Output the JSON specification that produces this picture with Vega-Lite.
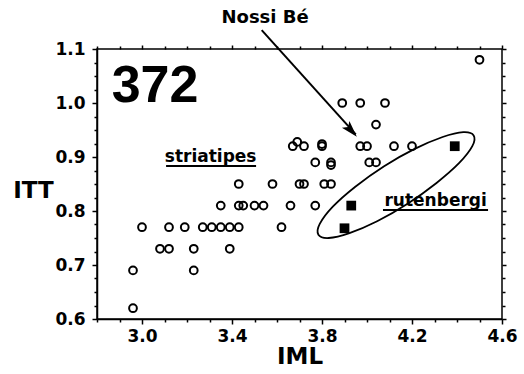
{
  "$schema": "https://vega.github.io/schema/vega-lite/v6.json",
  "width": 405,
  "height": 270,
  "autosize": "none",
  "padding": {"left": 97, "top": 49, "right": 22, "bottom": 55},
  "background": "white",
  "config": {
    "view": {"stroke": "black", "strokeWidth": 1.5},
    "axis": {
      "grid": false,
      "domainColor": "black",
      "domainWidth": 1.5,
      "tickColor": "black",
      "tickWidth": 1.5,
      "labelFont": "DejaVu Sans",
      "labelFontWeight": "bold",
      "labelFontSize": 17,
      "labelColor": "black",
      "labelOverlap": false,
      "labelFlush": false,
      "titleFont": "DejaVu Sans",
      "titleFontWeight": "bold",
      "titleFontSize": 23,
      "titleColor": "black"
    }
  },
  "datasets": {
    "s": [
      {"iml": 2.96, "itt": 0.62}, {"iml": 2.96, "itt": 0.69}, {"iml": 3.0, "itt": 0.77},
      {"iml": 3.08, "itt": 0.73}, {"iml": 3.12, "itt": 0.73}, {"iml": 3.12, "itt": 0.77},
      {"iml": 3.19, "itt": 0.77}, {"iml": 3.23, "itt": 0.73}, {"iml": 3.23, "itt": 0.69},
      {"iml": 3.27, "itt": 0.77}, {"iml": 3.31, "itt": 0.77}, {"iml": 3.35, "itt": 0.77},
      {"iml": 3.39, "itt": 0.77}, {"iml": 3.43, "itt": 0.77}, {"iml": 3.39, "itt": 0.73},
      {"iml": 3.35, "itt": 0.81}, {"iml": 3.43, "itt": 0.81}, {"iml": 3.45, "itt": 0.81},
      {"iml": 3.5, "itt": 0.81}, {"iml": 3.54, "itt": 0.81}, {"iml": 3.66, "itt": 0.81},
      {"iml": 3.77, "itt": 0.81}, {"iml": 3.62, "itt": 0.77}, {"iml": 3.43, "itt": 0.85},
      {"iml": 3.58, "itt": 0.85}, {"iml": 3.7, "itt": 0.85}, {"iml": 3.72, "itt": 0.85},
      {"iml": 3.81, "itt": 0.85}, {"iml": 3.84, "itt": 0.85}, {"iml": 3.67, "itt": 0.92},
      {"iml": 3.69, "itt": 0.928}, {"iml": 3.72, "itt": 0.92}, {"iml": 3.8, "itt": 0.92},
      {"iml": 3.8, "itt": 0.924}, {"iml": 3.97, "itt": 0.92}, {"iml": 4.0, "itt": 0.92},
      {"iml": 4.12, "itt": 0.92}, {"iml": 4.2, "itt": 0.92}, {"iml": 3.77, "itt": 0.89},
      {"iml": 3.84, "itt": 0.885}, {"iml": 3.84, "itt": 0.89}, {"iml": 4.01, "itt": 0.89},
      {"iml": 4.04, "itt": 0.89}, {"iml": 3.89, "itt": 1.0}, {"iml": 3.97, "itt": 1.0},
      {"iml": 4.08, "itt": 1.0}, {"iml": 4.04, "itt": 0.96}, {"iml": 4.5, "itt": 1.08}
    ],
    "r": [
      {"iml": 4.39, "itt": 0.92}, {"iml": 3.93, "itt": 0.81}, {"iml": 3.9, "itt": 0.768}
    ],
    "ell": [
      {"i": 0, "iml": 4.474, "itt": 0.94}, {"i": 1, "iml": 4.468, "itt": 0.92},
      {"i": 2, "iml": 4.41, "itt": 0.889}, {"i": 3, "iml": 4.309, "itt": 0.852},
      {"i": 4, "iml": 4.182, "itt": 0.814}, {"i": 5, "iml": 4.045, "itt": 0.781},
      {"i": 6, "iml": 3.922, "itt": 0.759}, {"i": 7, "iml": 3.83, "itt": 0.75},
      {"i": 8, "iml": 3.784, "itt": 0.756}, {"i": 9, "iml": 3.79, "itt": 0.776},
      {"i": 10, "iml": 3.848, "itt": 0.808}, {"i": 11, "iml": 3.948, "itt": 0.845},
      {"i": 12, "iml": 4.076, "itt": 0.883}, {"i": 13, "iml": 4.212, "itt": 0.915},
      {"i": 14, "iml": 4.336, "itt": 0.937}, {"i": 15, "iml": 4.428, "itt": 0.946}
    ],
    "arrow": [{"iml": 3.532, "itt": 1.135}, {"iml": 3.95, "itt": 0.942}],
    "head": [{"iml": 3.93, "itt": 0.949}],
    "labels": [
      {"label": "striatipes", "iml": 3.305, "itt": 0.89},
      {"label": "rutenbergi", "iml": 4.305, "itt": 0.8093}
    ],
    "nossi": [{"label": "Nossi Bé", "iml": 3.547, "itt": 1.1487}],
    "num": [{"label": "372", "iml": 3.058, "itt": 1.0025}],
    "ul": [
      {"iml": 3.107, "iml2": 3.507, "itt": 0.8833},
      {"iml": 4.071, "iml2": 4.538, "itt": 0.8019}
    ]
  },
  "resolve": {"axis": {"x": "independent", "y": "independent"}},
  "layer": [
    {
      "data": {"name": "s"},
      "mark": {"type": "point", "opacity": 0},
      "encoding": {
        "x": {"field": "iml", "type": "quantitative", "scale": {"domain": [2.8, 4.6], "nice": false, "zero": false},
          "axis": {"orient": "top", "title": null, "labels": false, "domain": false,
            "values": [2.8, 2.9, 3.0, 3.1, 3.2, 3.3, 3.4, 3.5, 3.6, 3.7, 3.8, 3.9, 4.0, 4.1, 4.2, 4.3, 4.4, 4.5, 4.6],
            "tickSize": {"condition": {"test": "round(datum.value*10) % 4 == 2", "value": 4}, "value": 3}}},
        "y": {"field": "itt", "type": "quantitative", "scale": {"domain": [0.6, 1.1], "nice": false, "zero": false},
          "axis": {"orient": "right", "title": null, "labels": false, "domain": false,
            "values": [0.6, 0.625, 0.65, 0.675, 0.7, 0.725, 0.75, 0.775, 0.8, 0.825, 0.85, 0.875, 0.9, 0.925, 0.95, 0.975, 1.0, 1.025, 1.05, 1.075, 1.1],
            "tickSize": {"condition": {"test": "round(datum.value*1000) % 100 == 0", "value": 4}, "value": 3}}}
      }
    },
    {
      "data": {"name": "s"},
      "mark": {"type": "point", "shape": "circle", "filled": false, "stroke": "black", "strokeWidth": 2, "size": 60, "opacity": 1},
      "encoding": {
        "x": {"field": "iml", "type": "quantitative", "scale": {"domain": [2.8, 4.6], "nice": false, "zero": false},
          "axis": {"orient": "bottom", "title": "IML", "labelPadding": 4, "titleY": 44, "titleBaseline": "alphabetic",
            "values": [2.8, 2.9, 3.0, 3.1, 3.2, 3.3, 3.4, 3.5, 3.6, 3.7, 3.8, 3.9, 4.0, 4.1, 4.2, 4.3, 4.4, 4.5, 4.6],
            "labelExpr": "(round(datum.value*10) % 4 == 2 && datum.value > 2.9) ? format(datum.value, '.1f') : ''",
            "tickSize": {"condition": {"test": "round(datum.value*10) % 4 == 2", "value": 5}, "value": 3}}},
        "y": {"field": "itt", "type": "quantitative", "scale": {"domain": [0.6, 1.1], "nice": false, "zero": false},
          "axis": {"orient": "left", "title": "ITT", "labelPadding": 7, "titleAngle": 0, "titleX": -64, "titleY": 141,
            "titleAlign": "center", "titleBaseline": "middle",
            "values": [0.6, 0.625, 0.65, 0.675, 0.7, 0.725, 0.75, 0.775, 0.8, 0.825, 0.85, 0.875, 0.9, 0.925, 0.95, 0.975, 1.0, 1.025, 1.05, 1.075, 1.1],
            "labelExpr": "round(datum.value*1000) % 100 == 0 ? format(datum.value, '.1f') : ''",
            "tickSize": {"condition": {"test": "round(datum.value*1000) % 100 == 0", "value": 5}, "value": 3}}}
      }
    },
    {
      "data": {"name": "r"},
      "mark": {"type": "square", "color": "black", "size": 95, "opacity": 1},
      "encoding": {
        "x": {"field": "iml", "type": "quantitative", "scale": {"domain": [2.8, 4.6], "nice": false, "zero": false}, "axis": null},
        "y": {"field": "itt", "type": "quantitative", "scale": {"domain": [0.6, 1.1], "nice": false, "zero": false}, "axis": null}
      }
    },
    {
      "data": {"name": "ell"},
      "mark": {"type": "line", "interpolate": "cardinal-closed", "color": "black", "strokeWidth": 1.8},
      "encoding": {
        "x": {"field": "iml", "type": "quantitative", "scale": {"domain": [2.8, 4.6], "nice": false, "zero": false}, "axis": null},
        "y": {"field": "itt", "type": "quantitative", "scale": {"domain": [0.6, 1.1], "nice": false, "zero": false}, "axis": null},
        "order": {"field": "i", "type": "quantitative"}
      }
    },
    {
      "data": {"name": "arrow"},
      "mark": {"type": "line", "color": "black", "strokeWidth": 2, "clip": false},
      "encoding": {
        "x": {"field": "iml", "type": "quantitative", "scale": {"domain": [2.8, 4.6], "nice": false, "zero": false}, "axis": null},
        "y": {"field": "itt", "type": "quantitative", "scale": {"domain": [0.6, 1.1], "nice": false, "zero": false}, "axis": null}
      }
    },
    {
      "data": {"name": "head"},
      "mark": {"type": "point", "shape": "M0,-1L0.6,1L0,0.55L-0.6,1Z", "filled": true, "color": "black", "size": 280, "angle": 138, "opacity": 1},
      "encoding": {
        "x": {"field": "iml", "type": "quantitative", "scale": {"domain": [2.8, 4.6], "nice": false, "zero": false}, "axis": null},
        "y": {"field": "itt", "type": "quantitative", "scale": {"domain": [0.6, 1.1], "nice": false, "zero": false}, "axis": null}
      }
    },
    {
      "data": {"name": "ul"},
      "mark": {"type": "rule", "color": "black", "strokeWidth": 2},
      "encoding": {
        "x": {"field": "iml", "type": "quantitative", "scale": {"domain": [2.8, 4.6], "nice": false, "zero": false}, "axis": null},
        "x2": {"field": "iml2"},
        "y": {"field": "itt", "type": "quantitative", "scale": {"domain": [0.6, 1.1], "nice": false, "zero": false}, "axis": null}
      }
    },
    {
      "data": {"name": "labels"},
      "mark": {"type": "text", "font": "DejaVu Sans", "fontWeight": "bold", "fontSize": 17, "align": "center", "baseline": "alphabetic", "color": "black"},
      "encoding": {
        "x": {"field": "iml", "type": "quantitative", "scale": {"domain": [2.8, 4.6], "nice": false, "zero": false}, "axis": null},
        "y": {"field": "itt", "type": "quantitative", "scale": {"domain": [0.6, 1.1], "nice": false, "zero": false}, "axis": null},
        "text": {"field": "label"}
      }
    },
    {
      "data": {"name": "nossi"},
      "mark": {"type": "text", "font": "DejaVu Sans", "fontWeight": "bold", "fontSize": 18, "align": "center", "baseline": "alphabetic", "color": "black", "clip": false},
      "encoding": {
        "x": {"field": "iml", "type": "quantitative", "scale": {"domain": [2.8, 4.6], "nice": false, "zero": false}, "axis": null},
        "y": {"field": "itt", "type": "quantitative", "scale": {"domain": [0.6, 1.1], "nice": false, "zero": false}, "axis": null},
        "text": {"field": "label"}
      }
    },
    {
      "data": {"name": "num"},
      "mark": {"type": "text", "font": "Liberation Sans", "fontWeight": "bold", "fontSize": 52, "align": "center", "baseline": "alphabetic", "color": "black"},
      "encoding": {
        "x": {"field": "iml", "type": "quantitative", "scale": {"domain": [2.8, 4.6], "nice": false, "zero": false}, "axis": null},
        "y": {"field": "itt", "type": "quantitative", "scale": {"domain": [0.6, 1.1], "nice": false, "zero": false}, "axis": null},
        "text": {"field": "label"}
      }
    }
  ]
}
